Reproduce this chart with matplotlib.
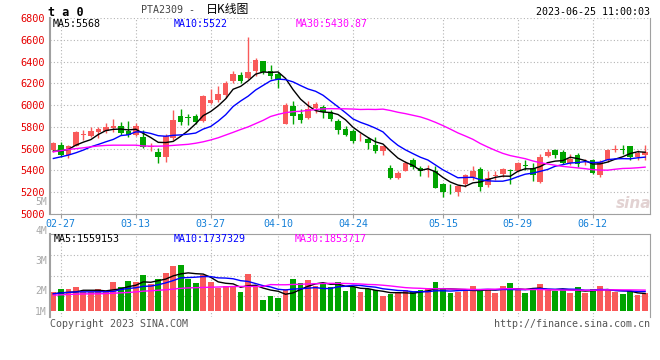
import numpy as np
import pandas as pd
import matplotlib
matplotlib.use('Agg')
import matplotlib.pyplot as plt

# PTA2309 daily K-line
dates = pd.bdate_range('2023-02-24', '2023-06-21', freq='C',
                       holidays=['2023-04-05', '2023-05-01', '2023-05-02', '2023-05-03']).strftime('%m-%d').tolist()
tick_labels = ['02-27', '03-13', '03-27', '04-10', '04-24', '05-15', '05-29', '06-12']

open_ = [5587, 5632, 5541, 5623, 5725, 5718, 5752, 5764, 5792, 5807,
         5764, 5724, 5709, 5611, 5571, 5525, 5694, 5902, 5887, 5899,
         5852, 6020, 6050, 6096, 6218, 6279, 6249, 6310, 6402, 6316,
         6285, 5828, 5990, 5919, 5883, 5974, 5986, 5937, 5852, 5777,
         5758, 5685, 5688, 5633, 5581, 5419, 5327, 5397, 5495, 5425,
         5405, 5394, 5275, 5222, 5198, 5272, 5336, 5412, 5266, 5350,
         5369, 5396, 5394, 5448, 5422, 5298, 5532, 5585, 5566, 5468,
         5538, 5474, 5498, 5354, 5498, 5588, 5597, 5622, 5523, 5545]
high = [5663, 5663, 5632, 5758, 5770, 5801, 5801, 5838, 5871, 5847,
        5856, 5838, 5776, 5648, 5602, 5734, 5954, 5960, 5917, 5917,
        6096, 6151, 6173, 6218, 6310, 6304, 6621, 6432, 6408, 6371,
        6304, 6020, 6041, 5960, 6041, 6029, 6004, 5959, 5876, 5806,
        5777, 5746, 5709, 5703, 5628, 5449, 5394, 5489, 5517, 5440,
        5449, 5440, 5281, 5275, 5266, 5366, 5440, 5428, 5397, 5397,
        5420, 5415, 5477, 5492, 5468, 5554, 5600, 5600, 5591, 5554,
        5560, 5508, 5508, 5492, 5600, 5631, 5631, 5622, 5585, 5631]
low = [5571, 5525, 5510, 5620, 5684, 5703, 5700, 5740, 5755, 5724,
       5709, 5715, 5602, 5580, 5470, 5479, 5684, 5816, 5816, 5830,
       5846, 6011, 6029, 6066, 6203, 6203, 6240, 6264, 6285, 6243,
       6157, 5822, 5822, 5837, 5877, 5928, 5883, 5852, 5736, 5718,
       5650, 5673, 5593, 5556, 5538, 5318, 5318, 5394, 5410, 5348,
       5336, 5235, 5159, 5183, 5164, 5250, 5312, 5214, 5251, 5312,
       5338, 5277, 5385, 5406, 5302, 5283, 5523, 5517, 5462, 5446,
       5431, 5446, 5369, 5338, 5477, 5569, 5554, 5492, 5498, 5492]
close = [5648, 5544, 5623, 5752, 5732, 5764, 5780, 5801, 5810, 5746,
         5724, 5810, 5611, 5620, 5525, 5715, 5862, 5844, 5880, 5844,
         6087, 6050, 6105, 6203, 6285, 6218, 6304, 6411, 6304, 6264,
         6240, 6005, 5898, 5867, 5968, 6011, 5937, 5877, 5776, 5725,
         5668, 5690, 5654, 5578, 5624, 5333, 5379, 5465, 5428, 5394,
         5412, 5241, 5204, 5216, 5256, 5357, 5397, 5244, 5327, 5357,
         5415, 5392, 5468, 5444, 5354, 5523, 5569, 5538, 5468, 5508,
         5462, 5480, 5375, 5477, 5591, 5594, 5591, 5523, 5560, 5569]
volume = [1652000, 1920000, 1920000, 2098000, 1652000, 1652000, 1920000, 1652000, 2545000, 2098000,
          2634000, 2545000, 3170000, 2366000, 2813000, 3348000, 3973000, 4063000, 2813000, 2455000,
          3170000, 2545000, 2009000, 2188000, 2188000, 1652000, 3259000, 2188000, 938000, 1295000,
          1116000, 1920000, 2813000, 2455000, 2723000, 2188000, 2455000, 2098000, 2545000, 1741000,
          2098000, 1652000, 1920000, 1830000, 1295000, 1473000, 1652000, 1830000, 1652000, 1830000,
          2009000, 2545000, 1920000, 1563000, 1652000, 1830000, 2188000, 1920000, 1830000, 1563000,
          2188000, 2455000, 1830000, 1563000, 2009000, 2366000, 1830000, 1741000, 1920000, 1563000,
          2098000, 1563000, 1920000, 2188000, 1830000, 1652000, 1473000, 1741000, 1384000, 1563000]

# moving averages before a full window is available
ma5_lead = [5577, 5580, 5593, 5632]
ma10_lead = [5510, 5525, 5541, 5562, 5587, 5617, 5639, 5663, 5685]
ma30_lead = [5571, 5582, 5593, 5600, 5608, 5617, 5625, 5630, 5632, 5632,
             5632, 5632, 5625, 5623, 5623, 5625, 5630, 5635, 5640, 5650,
             5663, 5680, 5700, 5725, 5750, 5776, 5800, 5830, 5860]
vma5_lead = [1530000, 1620000, 1660000, 1700000]
vma10_lead = [1530000, 1600000, 1660000, 1700000, 1710000, 1710000, 1710000, 1720000, 1740000]
vma30_lead = [1410000, 1440000, 1470000, 1500000, 1520000, 1530000, 1530000, 1550000, 1580000, 1620000,
              1650000, 1700000, 1770000, 1800000, 1850000, 1890000, 1950000, 2020000, 2060000, 2080000,
              2100000, 2120000, 2140000, 2160000, 2180000, 2190000, 2190000, 2190000, 2190000]


def moving_avg(values, n, lead):
    out = pd.Series(values, dtype=float).rolling(n).mean().to_numpy()
    out[:n - 1] = lead
    return out


W, H = 660, 360
RED = '#f95a5a'
GREEN = '#00a400'
BORDER = '#a0a0a0'
GRID = '#b4b4b4'
MONO = 'DejaVu Sans Mono'


def box(l, t, r, b):
    return [l / W, 1 - b / H, (r - l) / W, (b - t) / H]


o = np.array(open_, dtype=float)
c = np.array(close, dtype=float)
x = np.arange(len(c))
colors = [RED if cc >= oo else GREEN for oo, cc in zip(o, c)]
tick_pos = [dates.index(t) for t in tick_labels]

fig = plt.figure(figsize=(6.6, 3.6), dpi=100)


def ftext(px, py, s, **kw):
    fig.text(px / W, 1 - py / H, s, va='center', **kw)


# --- price panel
ax = fig.add_axes(box(50, 18, 650, 214))
ax.vlines(x, low, high, colors=colors, lw=1, zorder=3)
ax.bar(x, np.maximum(np.abs(c - o), 8), bottom=np.minimum(o, c), width=0.74,
       color=colors, linewidth=0, zorder=3)
ax.plot(x, moving_avg(c, 5, ma5_lead), color='black', lw=1, zorder=4)
ax.plot(x, moving_avg(c, 10, ma10_lead), color='#0000ff', lw=1, zorder=4)
ax.plot(x, moving_avg(c, 30, ma30_lead), color='#ff00ff', lw=1, zorder=4)

ax.set_xlim(-0.45, len(c) - 0.35)
ax.set_ylim(5000, 6800)
ax.set_yticks(np.arange(5000, 6801, 200))
ax.set_xticks(tick_pos)
ax.set_xticklabels(tick_labels, family=MONO)
for lab in ax.get_yticklabels():
    lab.set_family(MONO)
ax.grid(True, color=GRID, linestyle=(0, (1, 2)), lw=0.8, zorder=0)
ax.tick_params(axis='y', length=0, pad=4, labelsize=7.4, labelcolor='#e60000')
ax.tick_params(axis='x', length=3, color=BORDER, pad=0.5, labelsize=7.2, labelcolor='#1580d8')
ax.spines['top'].set_visible(False)
for s in ['left', 'right', 'bottom']:
    ax.spines[s].set_color(BORDER)
ax.spines['left'].set_linewidth(1.5)

ftext(53, 24, 'MA5:5568', color='black', family=MONO, fontsize=7.2)
ftext(174, 24, 'MA10:5522', color='#0000ff', family=MONO, fontsize=7.2)
ftext(296, 24, 'MA30:5430.87', color='#ff00ff', family=MONO, fontsize=7.2)
ftext(634, 203, 'sina', color='#e2d2d2', fontsize=11, fontweight='bold',
      style='italic', ha='center', zorder=1)

# --- volume panel
ax2 = fig.add_axes(box(50, 234, 650, 317))
ax2.bar(x, volume, width=0.76, color=colors, linewidth=0, zorder=3)
ax2.plot(x, moving_avg(volume, 5, vma5_lead), color='black', lw=1, zorder=4)
ax2.plot(x, moving_avg(volume, 10, vma10_lead), color='#0000ff', lw=1, zorder=4)
ax2.plot(x, moving_avg(volume, 30, vma30_lead), color='#ff00ff', lw=1, zorder=4)
ax2.set_xlim(ax.get_xlim())
ylo, yhi = -540000, 6875000
ax2.set_ylim(ylo, yhi)
ax2.set_yticks(np.linspace(ylo, yhi, 5)[1:-1])
ax2.set_xticks(tick_pos)
ax2.set_xticklabels([])
ax2.set_yticklabels([])
ax2.tick_params(length=0)
ax2.grid(True, color=GRID, linestyle=(0, (1, 2)), lw=0.8, zorder=0)
ax2.spines['bottom'].set_visible(False)
for s in ['left', 'right', 'top']:
    ax2.spines[s].set_color(BORDER)
ax2.spines['left'].set_linewidth(1.5)

ftext(54, 239, 'MA5:1559153', color='black', family=MONO, fontsize=7.2)
ftext(174, 239, 'MA10:1737329', color='#0000ff', family=MONO, fontsize=7.2)
ftext(295, 239, 'MA30:1853717', color='#ff00ff', family=MONO, fontsize=7.2)

# volume axis labels (sina puts them at fixed spots)
for yy, s in zip([202, 231, 261, 291, 312], ['5M', '4M', '3M', '2M', '1M']):
    ftext(47, yy, s, color='#a8a8a8', family=MONO, fontsize=7.0, ha='right')

# --- header / footer
ftext(48, 12, 't a 0', color='black', family=MONO, fontsize=8.5, fontweight='bold')
ftext(141, 10, 'PTA2309 -', color='#444444', family=MONO, fontsize=7.2)
ftext(206, 10, '日K线图', color='black', family=['Noto Sans CJK SC', 'DejaVu Sans'], fontsize=8.6)
ftext(650, 12, '2023-06-25 11:00:03', color='black', family=MONO, fontsize=7.2, ha='right')
ftext(50, 324, 'Copyright 2023 SINA.COM', color='#555555', family=MONO, fontsize=7.2)
ftext(650, 324, 'http://finance.sina.com.cn', color='#555555', family=MONO, fontsize=7.2, ha='right')

fig.savefig('out.png', dpi=100, facecolor='white')
